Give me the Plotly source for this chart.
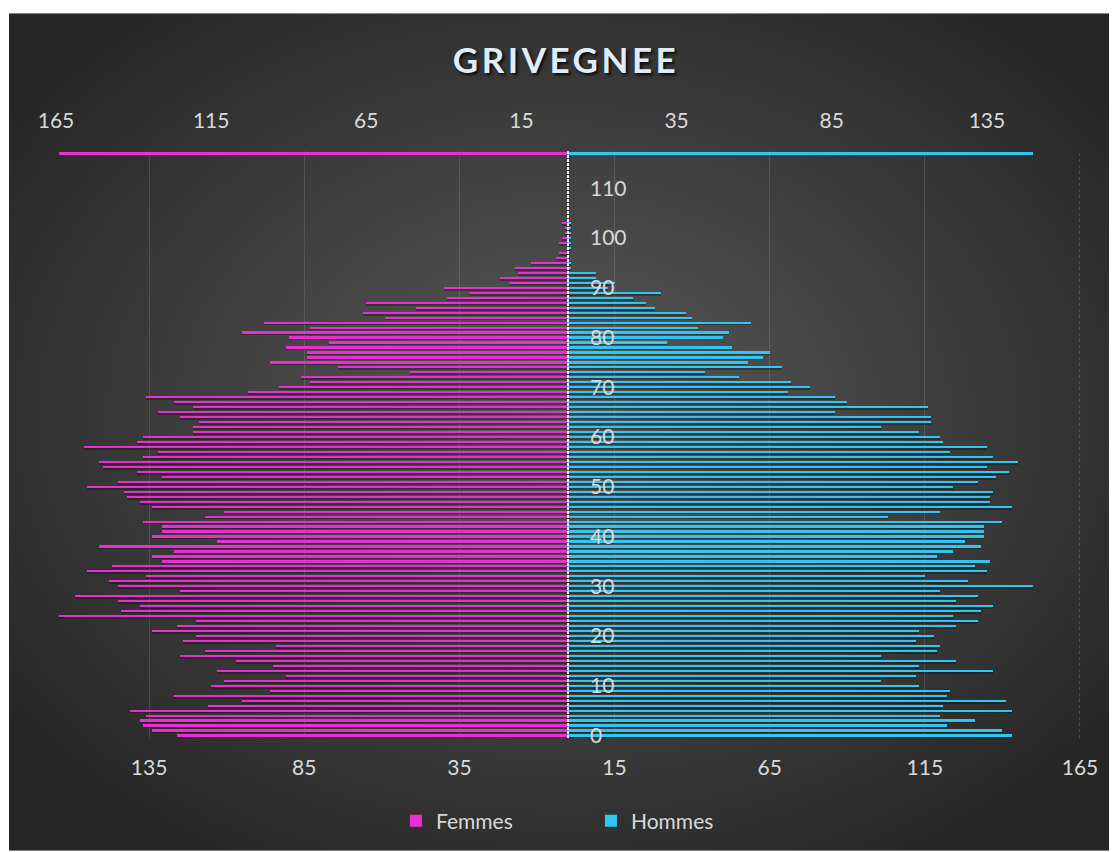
import base64
import plotly.graph_objects as go

# population by single year of age, 0 to 103
ages = list(range(0, 104))
femmes = [126, 134, 137, 138, 136, 141, 116, 105, 127, 96,
          115, 111, 91, 113, 95, 107, 125, 117, 94, 124,
          120, 134, 126, 120, 164, 144, 138, 145, 159, 125,
          145, 148, 136, 155, 147, 131, 134, 127, 151, 113,
          134, 131, 131, 137, 117, 111, 134, 138, 142, 143,
          155, 145, 131, 139, 150, 151, 137, 132, 156, 139,
          137, 121, 121, 119, 125, 132, 121, 127, 136, 103,
          93, 83, 86, 51, 74, 96, 84, 84, 91, 77,
          90, 105, 83, 98, 59, 66, 49, 65, 39, 32,
          40, 19, 22, 16, 17, 12, 4, 3, 0, 3,
          2, 1, 1, 2]
hommes = [143, 140, 122, 131, 120, 143, 121, 141, 122, 123,
          113, 101, 112, 137, 113, 125, 101, 119, 120, 112,
          118, 113, 125, 132, 124, 133, 137, 125, 132, 120,
          150, 129, 115, 135, 131, 136, 119, 124, 133, 128,
          134, 134, 134, 140, 103, 120, 143, 136, 136, 137,
          124, 132, 138, 142, 135, 145, 137, 123, 135, 121,
          120, 113, 101, 117, 117, 86, 116, 90, 86, 71,
          78, 72, 55, 44, 69, 58, 63, 65, 53, 32,
          50, 52, 42, 59, 40, 38, 28, 25, 21, 30,
          13, 15, 9, 9, 1, 1, 0, 0, 1, 1,
          1, 1, 1, 1]

age_ticks = list(range(0, 111, 10))
bottom_ticks = [-135, -85, -35, 15, 65, 115, 165]
top_ticks = [-165, -115, -65, -15, 35, 85, 135]
x_limit = 165
top_row = 117  # the max row drawn along the top edge

pink = "#EC2DD4"
blue = "#30C6F3"
shadow = "rgba(0,0,0,0.3)"
label_color = "#d9d9d9"
bar_w = 0.44

fig = go.Figure()

# soft drop shadow under the bars
for vals in ([-v for v in femmes], hommes):
    fig.add_trace(go.Bar(
        y=ages, x=vals, orientation="h", width=bar_w, offset=-bar_w / 2 - 0.35,
        marker=dict(color=shadow, line=dict(width=0)), showlegend=False, hoverinfo="skip",
    ))

fig.add_trace(go.Bar(
    y=ages, x=[-v for v in femmes], orientation="h", name="Femmes",
    marker=dict(color=pink, line=dict(width=0)), width=bar_w,
    customdata=femmes, hovertemplate="%{y} ans : %{customdata}<extra>Femmes</extra>",
))
fig.add_trace(go.Bar(
    y=ages, x=hommes, orientation="h", name="Hommes",
    marker=dict(color=blue, line=dict(width=0)), width=bar_w,
    hovertemplate="%{y} ans : %{x}<extra>Hommes</extra>",
))

# max values as a line along the top of the plot
fig.add_trace(go.Bar(
    y=[top_row], x=[-max(femmes)], orientation="h", xaxis="x2",
    marker=dict(color=pink, line=dict(width=0)), width=0.6, showlegend=False, hoverinfo="skip",
))
fig.add_trace(go.Bar(
    y=[top_row], x=[max(hommes)], orientation="h", xaxis="x2",
    marker=dict(color=blue, line=dict(width=0)), width=0.6, showlegend=False, hoverinfo="skip",
))

# radial gradient background for the chart area
svg = ('<svg xmlns="http://www.w3.org/2000/svg" width="1108" height="839">'
       '<defs><radialGradient id="g" cx="50%" cy="48%" r="62%">'
       '<stop offset="0" stop-color="#5a5a5a"/><stop offset="1" stop-color="#262626"/>'
       '</radialGradient></defs><rect width="100%" height="100%" fill="url(#g)"/></svg>')
bg = "data:image/svg+xml;base64," + base64.b64encode(svg.encode()).decode()

W, H = 1109, 844  # page body keeps an 8px margin
ml, mr, mt, mb = 48, 37, 143, 113
pw, ph = W - ml - mr, H - mt - mb

fig.update_layout(
    width=W, height=H,
    margin=dict(l=ml, r=mr, t=mt, b=mb),
    paper_bgcolor="white", plot_bgcolor="rgba(0,0,0,0)",
    font=dict(family="Lato", size=21, color=label_color),
    barmode="overlay",
    bargap=0,
    title=dict(
        text='<b><span style="letter-spacing:3.5px">GRIVEGNEE</span></b>',
        x=558 / W, y=1 - 53 / H, xanchor="center", yanchor="middle",
        font=dict(family="Lato", size=35, color="#e2ecf8", shadow="2px 2px 3px rgba(0,0,0,0.85)"),
    ),
    images=[dict(
        source=bg, xref="paper", yref="paper",
        x=(1 - ml) / pw, y=(mt + ph - 5) / ph,
        sizex=(W - 1) / pw, sizey=(H - 5) / ph,
        xanchor="left", yanchor="top", sizing="stretch", layer="below",
    )],
    xaxis=dict(
        range=[-x_limit, x_limit], tickvals=bottom_ticks, ticktext=[str(abs(v)) for v in bottom_ticks],
        showgrid=True, gridcolor="rgba(255,255,255,0.13)", gridwidth=1,
        zeroline=False, showline=False, ticks="", ticklabelstandoff=15, fixedrange=True,
    ),
    xaxis2=dict(
        overlaying="x", side="top", matches="x",
        tickvals=top_ticks, ticktext=[str(abs(v)) for v in top_ticks],
        showgrid=False, zeroline=False, showline=False, ticks="", ticklabelstandoff=18,
    ),
    yaxis=dict(
        range=[-0.5, top_row + 0.5], tickvals=age_ticks,
        anchor="free", position=0.5, side="right",
        showgrid=False, zeroline=False, showline=False, ticks="", ticklabelstandoff=21,
    ),
    legend=dict(
        orientation="h", x=0.332, y=-82 / ph, xanchor="left", yanchor="middle",
        font=dict(size=21, color=label_color), entrywidth=150, bgcolor="rgba(0,0,0,0)",
    ),
    showlegend=True,
    shapes=[
        dict(type="line", xref="x", yref="paper", x0=0, x1=0, y0=0, y1=1,
             line=dict(color="#e8e8e8", width=2, dash="3px,1px"), layer="above"),
        dict(type="line", xref="x", yref="paper", x0=x_limit, x1=x_limit, y0=0, y1=1,
             line=dict(color="rgba(255,255,255,0.35)", width=1, dash="dot")),
    ],
)

fig.write_html("out.html")
